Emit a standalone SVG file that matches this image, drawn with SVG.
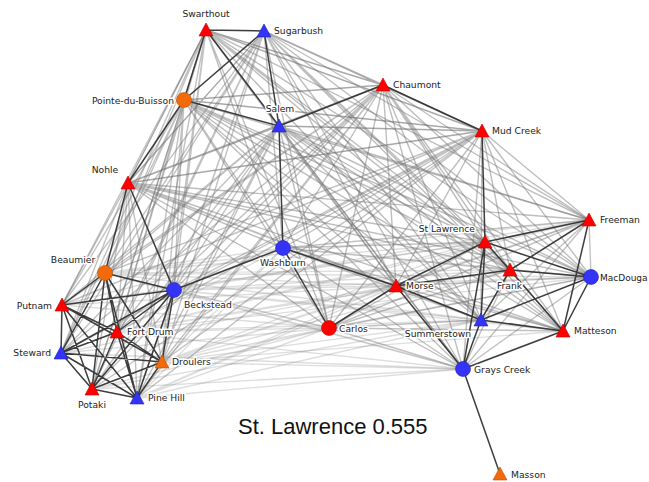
<svg xmlns="http://www.w3.org/2000/svg" xmlns:xlink="http://www.w3.org/1999/xlink" width="649" height="482" viewBox="0 0 649 482">
<style>
.e path{fill:none;stroke-width:1.4;stroke-linecap:round}
.nn{stroke:#6e6e6e;stroke-opacity:.6}
.ne{stroke:#777;stroke-opacity:.48}
.nw{stroke:#777;stroke-opacity:.45}
.ee{stroke:#777;stroke-opacity:.45}
.we{stroke:#888;stroke-opacity:.28}
.dk path{stroke:#333;stroke-width:1.5;stroke-opacity:.95}
.red{fill:#ff0000;stroke:#c80000;stroke-width:.6}
.blue{fill:#3434f8;stroke:#2222b0;stroke-width:.6}
.orange{fill:#f26a0a;stroke:#c05000;stroke-width:.6}
.lbl{font-family:"DejaVu Sans","Noto Sans",sans-serif;font-size:9.2px;fill:#222;stroke:#fff;stroke-width:3;stroke-linejoin:round;paint-order:stroke}
.title{font-family:"Liberation Sans",Arial,sans-serif;font-size:22px;fill:#111}
</style>
<defs>
<path id="tri" d="M0,-7L7,6L-7,6Z"/>
</defs>
<rect width="649" height="482" fill="#fff"/>
<g id="connectors" class="e">
<g class="we">
<path d="M105 273L589 220M105 273L485 242M105 273L283 248M105 273L510 270M105 273L591 277M105 273L396 286M105 273L329 328M105 273L481 320M105 273L563 331M105 273L463 369"/>
<path d="M174 290L589 220M174 290L485 242M174 290L510 270M174 290L591 277M174 290L396 286M174 290L329 328M174 290L481 320M174 290L563 331M174 290L463 369"/>
<path d="M62 305L283 248M62 305L396 286M62 305L329 328M62 305L485 242"/>
<path d="M117 332L589 220M117 332L485 242M117 332L283 248M117 332L510 270M117 332L591 277M117 332L396 286M117 332L329 328M117 332L481 320M117 332L463 369"/>
<path d="M61 353L396 286M61 353L329 328M61 353L463 369"/>
<path d="M162 362L589 220M162 362L485 242M162 362L283 248M162 362L510 270M162 362L591 277M162 362L396 286M162 362L329 328M162 362L481 320M162 362L563 331M162 362L463 369"/>
<path d="M92 389L329 328M92 389L481 320M92 389L463 369"/>
<path d="M137 398L485 242M137 398L283 248M137 398L396 286M137 398L329 328M137 398L481 320M137 398L463 369"/>
</g>
<g class="ee">
<path d="M589 220L283 248M589 220L591 277M589 220L396 286M589 220L329 328M589 220L481 320M589 220L463 369"/>
<path d="M485 242L283 248M485 242L329 328M485 242L563 331"/>
<path d="M283 248L510 270M283 248L591 277M283 248L481 320M283 248L563 331M283 248L463 369"/>
<path d="M510 270L329 328M510 270L463 369"/>
<path d="M591 277L396 286M591 277L329 328M591 277L463 369"/>
<path d="M396 286L563 331"/>
<path d="M329 328L481 320M329 328L563 331M329 328L463 369"/>
</g>
<g class="nw">
<path d="M206 30L105 273M206 30L174 290M206 30L62 305M206 30L117 332M206 30L61 353M206 30L162 362M206 30L92 389M206 30L137 398"/>
<path d="M264 31L105 273M264 31L174 290M264 31L62 305M264 31L117 332M264 31L61 353M264 31L162 362M264 31L92 389M264 31L137 398"/>
<path d="M184 100L105 273M184 100L174 290M184 100L62 305M184 100L117 332M184 100L61 353M184 100L162 362M184 100L92 389M184 100L137 398"/>
<path d="M279 126L105 273M279 126L174 290M279 126L62 305M279 126L117 332M279 126L61 353M279 126L162 362M279 126L92 389M279 126L137 398"/>
<path d="M383 85L105 273M383 85L174 290M383 85L62 305M383 85L117 332M383 85L61 353M383 85L162 362M383 85L92 389M383 85L137 398"/>
<path d="M482 131L105 273M482 131L174 290M482 131L62 305M482 131L117 332M482 131L61 353M482 131L162 362M482 131L92 389M482 131L137 398"/>
<path d="M128 183L62 305M128 183L117 332M128 183L61 353M128 183L162 362M128 183L92 389M128 183L137 398"/>
</g>
<g class="ne">
<path d="M206 30L589 220M206 30L485 242M206 30L283 248M206 30L510 270M206 30L591 277M206 30L396 286M206 30L329 328M206 30L481 320M206 30L563 331M206 30L463 369"/>
<path d="M264 31L589 220M264 31L485 242M264 31L283 248M264 31L510 270M264 31L591 277M264 31L396 286M264 31L329 328M264 31L481 320M264 31L563 331M264 31L463 369"/>
<path d="M184 100L589 220M184 100L485 242M184 100L283 248M184 100L510 270M184 100L591 277M184 100L396 286M184 100L329 328M184 100L481 320M184 100L563 331M184 100L463 369"/>
<path d="M279 126L589 220M279 126L485 242M279 126L510 270M279 126L591 277M279 126L396 286M279 126L329 328M279 126L481 320M279 126L563 331M279 126L463 369"/>
<path d="M383 85L589 220M383 85L485 242M383 85L283 248M383 85L510 270M383 85L591 277M383 85L396 286M383 85L329 328M383 85L481 320M383 85L563 331M383 85L463 369"/>
<path d="M482 131L589 220M482 131L283 248M482 131L510 270M482 131L591 277M482 131L396 286M482 131L329 328M482 131L481 320M482 131L563 331M482 131L463 369"/>
<path d="M128 183L589 220M128 183L485 242M128 183L283 248M128 183L510 270M128 183L591 277M128 183L396 286M128 183L329 328M128 183L481 320M128 183L563 331M128 183L463 369"/>
</g>
<g class="nn">
<path d="M206 30L383 85M206 30L482 131M206 30L128 183M264 31L383 85M264 31L482 131M264 31L128 183M184 100L383 85M184 100L482 131M279 126L482 131M279 126L128 183M383 85L128 183M482 131L128 183"/>
</g>
<g class="dk">
<path d="M206 30L264 31M206 30L184 100M206 30L279 126M264 31L184 100M264 31L279 126M184 100L279 126M184 100L128 183M279 126L383 85M279 126L283 248M383 85L482 131M482 131L485 242M128 183L105 273M128 183L174 290"/>
<path d="M105 273L174 290M105 273L62 305M105 273L117 332M105 273L61 353M105 273L162 362M105 273L92 389M105 273L137 398M174 290L62 305M174 290L117 332M174 290L61 353M174 290L162 362M174 290L92 389M174 290L137 398M62 305L117 332M62 305L61 353M62 305L162 362M62 305L92 389M62 305L137 398M117 332L61 353M117 332L162 362M117 332L92 389M117 332L137 398M61 353L162 362M61 353L92 389M61 353L137 398M162 362L92 389M162 362L137 398M92 389L137 398"/>
<path d="M174 290L283 248M283 248L329 328M283 248L396 286M329 328L396 286M396 286L485 242M396 286L510 270M396 286L481 320M396 286L463 369M485 242L589 220M485 242L510 270M485 242L591 277M485 242L481 320M485 242L463 369M510 270L589 220M510 270L591 277M510 270L481 320M510 270L563 331M589 220L563 331M591 277L481 320M591 277L563 331M481 320L563 331M481 320L463 369M563 331L463 369M463 369L500 474"/>
</g>
</g>
<g id="n-swarthout"><use href="#tri" x="206" y="30" class="red"/><text class="lbl" x="206" y="17" text-anchor="middle">Swarthout</text></g>
<g id="n-sugarbush"><use href="#tri" x="264" y="31" class="blue"/><text class="lbl" x="274" y="34">Sugarbush</text></g>
<g id="n-pointe"><circle cx="184" cy="100" r="7.5" class="orange"/><text class="lbl" x="174" y="103.5" text-anchor="end">Pointe-du-Buisson</text></g>
<g id="n-salem"><use href="#tri" x="279" y="126" class="blue"/><text class="lbl" x="280" y="112" text-anchor="middle">Salem</text></g>
<g id="n-chaumont"><use href="#tri" x="383" y="85" class="red"/><text class="lbl" x="393" y="88">Chaumont</text></g>
<g id="n-mudcreek"><use href="#tri" x="482" y="131" class="red"/><text class="lbl" x="492" y="134">Mud Creek</text></g>
<g id="n-nohle"><use href="#tri" x="128" y="183" class="red"/><text class="lbl" x="105" y="172.5" text-anchor="middle">Nohle</text></g>
<g id="n-freeman"><use href="#tri" x="589" y="220" class="red"/><text class="lbl" x="600" y="223">Freeman</text></g>
<g id="n-stlawrence"><use href="#tri" x="485" y="242" class="red"/><text class="lbl" x="475" y="232" text-anchor="end">St Lawrence</text></g>
<g id="n-beaumier"><circle cx="105" cy="273" r="7.5" class="orange"/><text class="lbl" x="73" y="262.5" text-anchor="middle">Beaumier</text></g>
<g id="n-washburn"><circle cx="283" cy="248" r="7.5" class="blue"/><text class="lbl" x="283" y="266" text-anchor="middle">Washburn</text></g>
<g id="n-beckstead"><circle cx="174" cy="290" r="7.5" class="blue"/><text class="lbl" x="184" y="307.5">Beckstead</text></g>
<g id="n-putnam"><use href="#tri" x="62" y="305" class="red"/><text class="lbl" x="52" y="308.5" text-anchor="end">Putnam</text></g>
<g id="n-frank"><use href="#tri" x="510" y="270" class="red"/><text class="lbl" x="509.5" y="288.5" text-anchor="middle">Frank</text></g>
<g id="n-macdougal"><circle cx="591" cy="277" r="7.5" class="blue"/><text class="lbl" x="600" y="280.5" style="font-size:9px">MacDouga</text></g>
<g id="n-morse"><use href="#tri" x="396" y="286" class="red"/><text class="lbl" x="406" y="289">Morse</text></g>
<g id="n-fortdrum"><use href="#tri" x="117" y="332" class="red"/><text class="lbl" x="127" y="335">Fort Drum</text></g>
<g id="n-carlos"><circle cx="329" cy="328" r="7.5" class="red"/><text class="lbl" x="339" y="331.5">Carlos</text></g>
<g id="n-summerstown"><use href="#tri" x="481" y="320" class="blue"/><text class="lbl" x="438" y="336.5" text-anchor="middle">Summerstown</text></g>
<g id="n-matteson"><use href="#tri" x="563" y="331" class="red"/><text class="lbl" x="574" y="333.5">Matteson</text></g>
<g id="n-steward"><use href="#tri" x="61" y="353" class="blue"/><text class="lbl" x="51" y="355.5" text-anchor="end">Steward</text></g>
<g id="n-droulers"><use href="#tri" x="162" y="362" class="orange"/><text class="lbl" x="172" y="364.5">Droulers</text></g>
<g id="n-grayscreek"><circle cx="463" cy="369" r="7.5" class="blue"/><text class="lbl" x="474" y="372.5">Grays Creek</text></g>
<g id="n-potaki"><use href="#tri" x="92" y="389" class="red"/><text class="lbl" x="92" y="407.5" text-anchor="middle">Potaki</text></g>
<g id="n-pinehill"><use href="#tri" x="137" y="398" class="blue"/><text class="lbl" x="148" y="400.5">Pine Hill</text></g>
<g id="n-masson"><use href="#tri" x="500" y="474" class="orange"/><text class="lbl" x="511" y="477.5">Masson</text></g>
<text class="title" x="238" y="434">St. Lawrence 0.555</text>
</svg>
